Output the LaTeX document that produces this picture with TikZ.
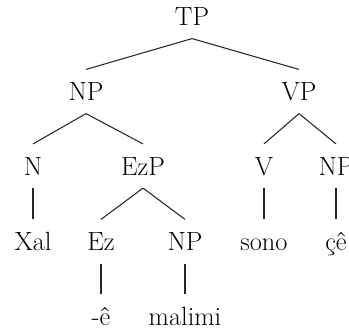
\documentclass[tikz,border=0pt]{standalone}
\usepackage{tikz}

\begin{document}
\begin{tikzpicture}[x=0.02cm,y=-0.02cm,
  cat/.style={font=\fontsize{15}{18}\selectfont, inner xsep=0pt, inner ysep=0.25cm,
    text height=0.37cm, text depth=0pt},
  branch/.style={line width=0.6pt, black!85}]
\clip (0,0) rectangle (349,332);
% categories
\node[cat] (tp) at (192,16.5) {TP};
\node[cat] (np) at (86,91.5) {NP};
\node[cat] (vp) at (299,91.5) {VP};
\node[cat] (n) at (33,166) {N};
\node[cat] (ezp) at (143,166) {EzP};
\node[cat] (v) at (264,166) {V};
\node[cat] (npobj) at (336,166) {NP};
\node[cat] (xal) at (33,241.5) {Xal};
\node[cat] (ez) at (101,241.5) {Ez};
\node[cat] (npposs) at (185,241.5) {NP};
\node[cat] (sono) at (264,241.5) {sono};
\node[cat] (ce) at (336,241.5) {çê};
\node[cat] (ezmark) at (101,316) {-ê};
\node[cat] (malimi) at (185,316) {malimi};

% branches
\draw[branch] (tp.south) -- (np.north);
\draw[branch] (tp.south) -- (vp.north);
\draw[branch] (np.south) -- (n.north);
\draw[branch] (np.south) -- (ezp.north);
\draw[branch] (vp.south) -- (v.north);
\draw[branch] (vp.south) -- (npobj.north);
\draw[branch] (n.south) -- (xal.north);
\draw[branch] (ezp.south) -- (ez.north);
\draw[branch] (ezp.south) -- (npposs.north);
\draw[branch] (v.south) -- (sono.north);
\draw[branch] (npobj.south) -- (ce.north);
\draw[branch] (ez.south) -- (ezmark.north);
\draw[branch] (npposs.south) -- (malimi.north);
\end{tikzpicture}
\end{document}
